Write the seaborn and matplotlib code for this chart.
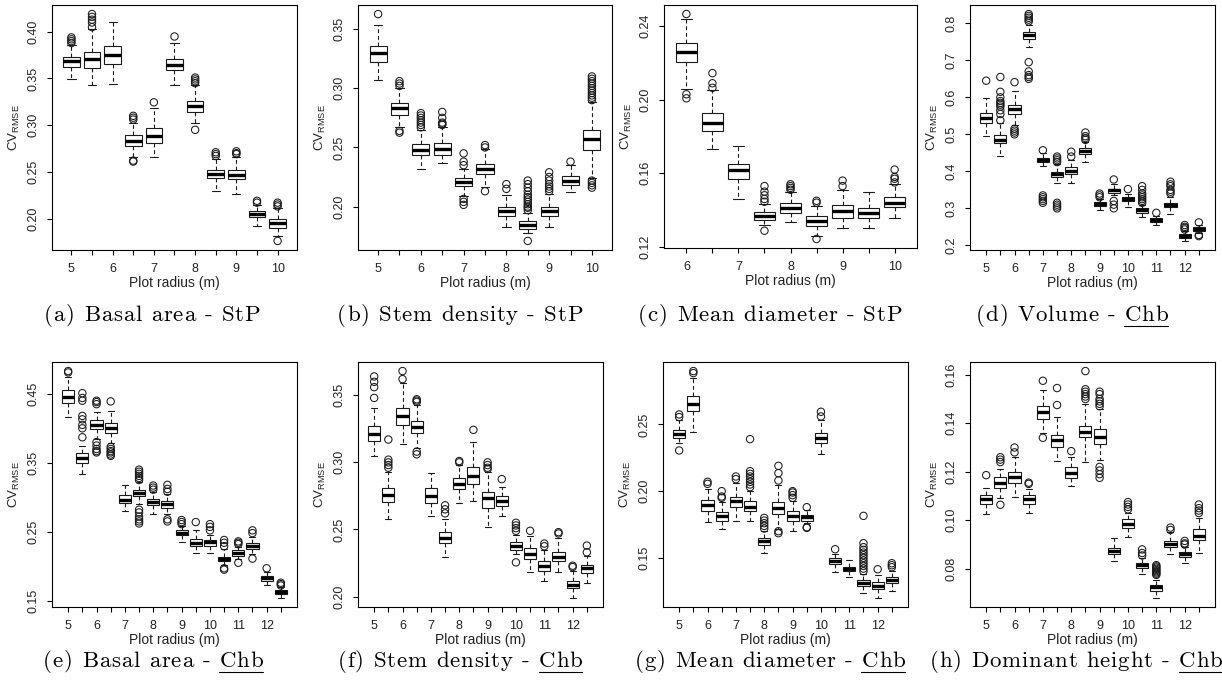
import matplotlib
matplotlib.use("Agg")
import matplotlib.pyplot as plt
from matplotlib import font_manager, ft2font
from matplotlib.lines import Line2D
import numpy as np
import pandas as pd
import seaborn as sns

# ---- data: per box (lower whisker, Q1, median, Q3, upper whisker) + outliers ----
RADIUS_A = [5, 5.5, 6, 6.5, 7, 7.5, 8, 8.5, 9, 9.5, 10]
BOX_A = [
    (0.349, 0.3626, 0.3683, 0.373, 0.386),
    (0.343, 0.3615, 0.3705, 0.378, 0.403),
    (0.344, 0.366, 0.375, 0.385, 0.411),
    (0.266, 0.278, 0.2834, 0.289, 0.302),
    (0.2655, 0.281, 0.2885, 0.297, 0.318),
    (0.343, 0.359, 0.3647, 0.371, 0.3885),
    (0.302, 0.314, 0.320, 0.326, 0.343),
    (0.230, 0.243, 0.2475, 0.2525, 0.264),
    (0.226, 0.242, 0.247, 0.2525, 0.266),
    (0.1925, 0.2015, 0.205, 0.208, 0.214),
    (0.1817, 0.1895, 0.195, 0.199, 0.211),
]
OUT_A = [
    [0.388, 0.390, 0.392, 0.394],
    [0.405, 0.410, 0.413, 0.416, 0.419],
    [],
    [0.261, 0.262, 0.306, 0.308, 0.310],
    [0.3245],
    [0.395],
    [0.295, 0.345, 0.347, 0.349, 0.351],
    [0.267, 0.269, 0.271],
    [0.269, 0.270, 0.272],
    [0.217, 0.219],
    [0.176, 0.213, 0.215, 0.217],
]
YTICKS_A = [0.20, 0.25, 0.30, 0.35, 0.40]

RADIUS_B = [5, 5.5, 6, 6.5, 7, 7.5, 8, 8.5, 9, 9.5, 10]
BOX_B = [
    (0.307, 0.3225, 0.3296, 0.3359, 0.3537),
    (0.267, 0.2778, 0.283, 0.2877, 0.300),
    (0.232, 0.2433, 0.248, 0.2526, 0.265),
    (0.2368, 0.2439, 0.249, 0.254, 0.267),
    (0.209, 0.217, 0.2207, 0.2243, 0.232),
    (0.2165, 0.2278, 0.2317, 0.2357, 0.249),
    (0.1825, 0.1923, 0.196, 0.1994, 0.210),
    (0.178, 0.181, 0.1847, 0.1881, 0.195),
    (0.183, 0.1923, 0.196, 0.200, 0.211),
    (0.212, 0.2184, 0.222, 0.2255, 0.235),
    (0.224, 0.2475, 0.257, 0.2645, 0.288),
]
OUT_B = [
    [0.3627],
    [0.2625, 0.264, 0.302, 0.304, 0.306],
    [0.267, 0.269, 0.271, 0.273, 0.275, 0.277, 0.279],
    [0.269, 0.270, 0.271, 0.275, 0.280],
    [0.2015, 0.204, 0.2065, 0.235, 0.238, 0.245],
    [0.213, 0.250, 0.252],
    [0.215, 0.219],
    [0.171, 0.197, 0.199, 0.200, 0.202, 0.204, 0.206, 0.208, 0.210, 0.213,
     0.216, 0.219, 0.222],
    [0.213, 0.215, 0.217, 0.219, 0.222, 0.225, 0.229],
    [0.238],
    [0.216, 0.218, 0.220, 0.222, 0.290, 0.292, 0.294, 0.296, 0.298, 0.300,
     0.302, 0.304, 0.306, 0.308, 0.310],
]
YTICKS_B = [0.20, 0.25, 0.30, 0.35]

RADIUS_C = [6, 6.5, 7, 7.5, 8, 8.5, 9, 9.5, 10]
BOX_C = [
    (0.206, 0.2207, 0.2259, 0.231, 0.2441),
    (0.1733, 0.1832, 0.1873, 0.1926, 0.2055),
    (0.1462, 0.157, 0.1615, 0.1651, 0.175),
    (0.132, 0.1345, 0.1368, 0.139, 0.143),
    (0.1332, 0.1386, 0.1413, 0.144, 0.150),
    (0.126, 0.1314, 0.1339, 0.1368, 0.142),
    (0.130, 0.1359, 0.1393, 0.1426, 0.151),
    (0.130, 0.1359, 0.1381, 0.1411, 0.150),
    (0.1359, 0.1417, 0.144, 0.1471, 0.154),
]
OUT_C = [
    [0.2008, 0.203, 0.2467],
    [0.2065, 0.209, 0.2145],
    [],
    [0.1287, 0.1445, 0.146, 0.148, 0.150, 0.153],
    [0.151, 0.152, 0.153, 0.154],
    [0.1242, 0.144, 0.145],
    [0.153, 0.156],
    [],
    [0.155, 0.157, 0.158, 0.162],
]
YTICKS_C = [0.12, 0.16, 0.20, 0.24]

RADIUS_16 = [5, 5.5, 6, 6.5, 7, 7.5, 8, 8.5, 9, 9.5, 10, 10.5, 11, 11.5, 12, 12.5]

BOX_D = [
    (0.495, 0.530, 0.545, 0.557, 0.598),
    (0.441, 0.476, 0.486, 0.497, 0.530),
    (0.525, 0.555, 0.569, 0.578, 0.618),
    (0.737, 0.758, 0.768, 0.776, 0.795),
    (0.414, 0.425, 0.431, 0.437, 0.450),
    (0.369, 0.385, 0.392, 0.398, 0.420),
    (0.369, 0.392, 0.400, 0.412, 0.430),
    (0.425, 0.448, 0.455, 0.463, 0.480),
    (0.295, 0.306, 0.313, 0.317, 0.325),
    (0.335, 0.342, 0.349, 0.353, 0.365),
    (0.304, 0.320, 0.325, 0.331, 0.340),
    (0.277, 0.288, 0.295, 0.302, 0.310),
    (0.256, 0.263, 0.269, 0.274, 0.280),
    (0.286, 0.304, 0.309, 0.314, 0.330),
    (0.212, 0.220, 0.226, 0.232, 0.240),
    (0.233, 0.239, 0.244, 0.250, 0.255),
]
OUT_D = [
    [0.645],
    [0.538, 0.555, 0.565, 0.575, 0.580, 0.585, 0.590, 0.600, 0.615, 0.655],
    [0.500, 0.505, 0.510, 0.515, 0.641],
    [0.650, 0.655, 0.660, 0.670, 0.695, 0.805, 0.810, 0.815, 0.820, 0.825],
    [0.315, 0.320, 0.325, 0.330, 0.335, 0.457],
    [0.300, 0.305, 0.310, 0.315, 0.425, 0.430, 0.435, 0.440],
    [0.440, 0.453],
    [0.485, 0.490, 0.495, 0.505],
    [0.330, 0.335, 0.340],
    [0.300, 0.310, 0.320, 0.378],
    [0.352],
    [0.315, 0.320, 0.325, 0.330, 0.335, 0.340, 0.350, 0.360],
    [0.288],
    [0.340, 0.345, 0.350, 0.360, 0.365, 0.372],
    [0.243, 0.247, 0.250, 0.255],
    [0.225, 0.228, 0.262],
]
YTICKS_D = [0.2, 0.3, 0.4, 0.5, 0.6, 0.7, 0.8]

BOX_E = [
    (0.416, 0.4364, 0.445, 0.4549, 0.475),
    (0.3335, 0.350, 0.3563, 0.3636, 0.375),
    (0.385, 0.3985, 0.4049, 0.4121, 0.424),
    (0.378, 0.3937, 0.401, 0.4073, 0.4257),
    (0.2796, 0.291, 0.2966, 0.303, 0.3175),
    (0.290, 0.3015, 0.3063, 0.310, 0.322),
    (0.2762, 0.2884, 0.2932, 0.298, 0.308),
    (0.275, 0.285, 0.2908, 0.2947, 0.305),
    (0.235, 0.2447, 0.2486, 0.252, 0.258),
    (0.219, 0.2292, 0.234, 0.2389, 0.253),
    (0.2195, 0.230, 0.2345, 0.2384, 0.245),
    (0.202, 0.2073, 0.2107, 0.214, 0.225),
    (0.210, 0.2155, 0.2194, 0.2228, 0.228),
    (0.218, 0.2253, 0.2296, 0.234, 0.242),
    (0.1733, 0.179, 0.183, 0.1864, 0.192),
    (0.154, 0.1597, 0.1626, 0.1655, 0.170),
]
OUT_E = [
    [0.481, 0.483],
    [0.387, 0.400, 0.405, 0.413, 0.418, 0.440, 0.444, 0.451],
    [0.365, 0.367, 0.370, 0.375, 0.380, 0.435, 0.438, 0.440],
    [0.360, 0.362, 0.365, 0.367, 0.370, 0.373, 0.439],
    [],
    [0.262, 0.265, 0.268, 0.272, 0.278, 0.282, 0.325, 0.328, 0.331, 0.334,
     0.337, 0.340],
    [0.311, 0.314, 0.317],
    [0.265, 0.268, 0.308, 0.312, 0.318],
    [0.261, 0.264, 0.267],
    [0.264],
    [0.252, 0.257, 0.261],
    [0.195, 0.197, 0.229, 0.234, 0.238],
    [0.205, 0.232, 0.234, 0.236],
    [0.211, 0.248, 0.252],
    [0.197],
    [0.172, 0.174, 0.176],
]
YTICKS_E = [0.15, 0.25, 0.35, 0.45]

BOX_F = [
    (0.305, 0.316, 0.321, 0.3272, 0.3408),
    (0.2577, 0.2701, 0.2758, 0.2806, 0.293),
    (0.3135, 0.3279, 0.3346, 0.3403, 0.359),
    (0.311, 0.3222, 0.326, 0.3309, 0.343),
    (0.2597, 0.2694, 0.2751, 0.2806, 0.292),
    (0.2292, 0.2396, 0.2436, 0.2478, 0.258),
    (0.2696, 0.2801, 0.2838, 0.2882, 0.298),
    (0.2709, 0.2838, 0.290, 0.2962, 0.3148),
    (0.2515, 0.2657, 0.2734, 0.2781, 0.293),
    (0.2597, 0.2672, 0.2709, 0.2751, 0.2813),
    (0.232, 0.2349, 0.2379, 0.2404, 0.246),
    (0.218, 0.228, 0.2317, 0.2362, 0.245),
    (0.2118, 0.2193, 0.223, 0.2267, 0.235),
    (0.218, 0.2267, 0.2297, 0.2334, 0.244),
    (0.199, 0.2064, 0.2089, 0.2118, 0.219),
    (0.210, 0.2176, 0.221, 0.2238, 0.230),
]
OUT_F = [
    [0.348, 0.356, 0.360, 0.364],
    [0.296, 0.298, 0.300, 0.302, 0.317],
    [0.362, 0.368],
    [0.306, 0.308, 0.345, 0.346, 0.347],
    [],
    [0.262, 0.265, 0.268],
    [0.300, 0.301],
    [0.3242],
    [0.295, 0.296, 0.298, 0.300],
    [0.2875],
    [0.2255, 0.249, 0.251, 0.253, 0.255],
    [0.249],
    [0.2375, 0.2395],
    [0.247, 0.248],
    [0.222, 0.223],
    [0.233, 0.238],
]
YTICKS_F = [0.20, 0.25, 0.30, 0.35]

BOX_G = [
    (0.236, 0.240, 0.243, 0.246, 0.253),
    (0.2443, 0.2598, 0.2655, 0.271, 0.285),
    (0.1768, 0.185, 0.190, 0.1935, 0.202),
    (0.1713, 0.178, 0.1817, 0.1843, 0.192),
    (0.178, 0.1885, 0.1925, 0.196, 0.206),
    (0.178, 0.1855, 0.1885, 0.1925, 0.200),
    (0.1538, 0.1593, 0.1623, 0.165, 0.170),
    (0.172, 0.183, 0.1875, 0.1918, 0.205),
    (0.1705, 0.178, 0.1817, 0.185, 0.193),
    (0.176, 0.178, 0.1805, 0.1825, 0.186),
    (0.228, 0.2363, 0.2398, 0.2435, 0.253),
    (0.1398, 0.1455, 0.148, 0.150, 0.153),
    (0.1355, 0.140, 0.1418, 0.1435, 0.1485),
    (0.1238, 0.1288, 0.1313, 0.1335, 0.138),
    (0.120, 0.1268, 0.1293, 0.1318, 0.137),
    (0.1255, 0.131, 0.1335, 0.1355, 0.140),
]
OUT_G = [
    [0.2305, 0.2555, 0.2575],
    [0.2885, 0.290],
    [0.2055, 0.207],
    [0.195, 0.196, 0.200],
    [0.209, 0.211],
    [0.203, 0.205, 0.207, 0.209, 0.211, 0.213, 0.215, 0.239],
    [0.172, 0.174, 0.176, 0.178, 0.180],
    [0.1685, 0.170, 0.208, 0.2135, 0.219],
    [0.195, 0.197, 0.199, 0.200],
    [0.1725, 0.173, 0.188],
    [0.256, 0.2595],
    [0.1565],
    [],
    [0.140, 0.142, 0.144, 0.146, 0.148, 0.150, 0.152, 0.154, 0.156, 0.158,
     0.161, 0.1815],
    [0.1415],
    [0.143, 0.1445, 0.146],
]
YTICKS_G = [0.15, 0.20, 0.25]

BOX_H = [
    (0.1025, 0.1066, 0.1087, 0.1105, 0.1135),
    (0.109, 0.1132, 0.1153, 0.1177, 0.121),
    (0.1097, 0.1152, 0.118, 0.1201, 0.126),
    (0.1028, 0.1069, 0.1087, 0.1104, 0.113),
    (0.136, 0.1418, 0.1448, 0.1469, 0.1535),
    (0.1243, 0.1301, 0.1331, 0.1353, 0.1425),
    (0.1142, 0.1174, 0.1195, 0.1218, 0.126),
    (0.1239, 0.1342, 0.1363, 0.139, 0.148),
    (0.125, 0.1315, 0.1345, 0.1377, 0.146),
    (0.0832, 0.086, 0.0873, 0.0887, 0.0928),
    (0.0931, 0.0967, 0.0986, 0.1004, 0.103),
    (0.0777, 0.0802, 0.0814, 0.0825, 0.0845),
    (0.068, 0.071, 0.0724, 0.0735, 0.0755),
    (0.0859, 0.089, 0.0904, 0.0915, 0.095),
    (0.0825, 0.0848, 0.0859, 0.0871, 0.089),
    (0.0864, 0.0917, 0.0935, 0.0963, 0.101),
]
OUT_H = [
    [0.1186],
    [0.1064, 0.124, 0.125, 0.126],
    [0.128, 0.130],
    [0.115, 0.1155],
    [0.134, 0.1575],
    [0.1475, 0.1545],
    [0.1285],
    [0.150, 0.151, 0.152, 0.153, 0.154, 0.1615],
    [0.1175, 0.119, 0.1205, 0.122, 0.147, 0.148, 0.149, 0.150, 0.152, 0.153],
    [],
    [0.1045, 0.1055, 0.1065, 0.1075],
    [0.0855, 0.0865, 0.088],
    [0.0775, 0.078, 0.0785, 0.079, 0.0795, 0.080, 0.0805, 0.081, 0.0815],
    [0.096, 0.097],
    [0.090, 0.0905, 0.0915],
    [0.103, 0.104, 0.105, 0.1065],
]
YTICKS_H = [0.08, 0.10, 0.12, 0.14, 0.16]

CAPTIONS = [
    ("(a) Basal area - StP", False),
    ("(b) Stem density - StP", False),
    ("(c) Mean diameter - StP", False),
    ("(d) Volume - Chb", True),
    ("(e) Basal area - Chb", True),
    ("(f) Stem density - Chb", True),
    ("(g) Mean diameter - Chb", True),
    ("(h) Dominant height - Chb", True),
]

# ---- style ----
sns.set_style("ticks")
plt.rcParams["font.family"] = ["Liberation Sans", "DejaVu Sans"]
plt.rcParams["mathtext.fontset"] = "custom"
plt.rcParams["mathtext.rm"] = "Liberation Sans"

W, H = 1222, 689
fig = plt.figure(figsize=(W / 100, H / 100), dpi=100)
fig.patch.set_facecolor("white")

# axes rectangles in pixels: left, top, right, bottom
RECTS = [
    (52, 5, 297, 250), (358, 5, 612, 250), (664, 5, 917, 248), (970, 5, 1215, 250),
    (52, 362, 297, 607), (358, 362, 603, 607), (663, 362, 908, 607), (970, 362, 1215, 607),
]
# caption centre x and baseline y, pixels
CAP_POS = [(152, 321), (460, 321), (770, 321), (1072, 321),
           (153, 667), (460, 667), (770, 667), (1076, 667)]

PANELS = [
    (RADIUS_A, BOX_A, OUT_A, YTICKS_A, 2),
    (RADIUS_B, BOX_B, OUT_B, YTICKS_B, 2),
    (RADIUS_C, BOX_C, OUT_C, YTICKS_C, 2),
    (RADIUS_16, BOX_D, OUT_D, YTICKS_D, 1),
    (RADIUS_16, BOX_E, OUT_E, YTICKS_E, 2),
    (RADIUS_16, BOX_F, OUT_F, YTICKS_F, 2),
    (RADIUS_16, BOX_G, OUT_G, YTICKS_G, 2),
    (RADIUS_16, BOX_H, OUT_H, YTICKS_H, 2),
]

INK = "#1a1a1a"


def draw_panel(ax, radius, boxes, outliers, yticks, ndec):
    # five values per box give exact quartiles; whiskers go to min / max
    rows = [(r, v) for r, b in zip(radius, boxes) for v in b]
    df = pd.DataFrame(rows, columns=["radius", "cv"])
    n = len(radius)
    sns.boxplot(
        data=df, x="radius", y="cv", native_scale=True, whis=(0, 100),
        width=0.8 if n < 12 else 0.85, color="white", linecolor=INK,
        linewidth=0.8, fliersize=0,
        medianprops=dict(linewidth=2.4, color="black"),
        whiskerprops=dict(linestyle=(0, (3.5, 2.5))),
        ax=ax,
    )
    ox = [r for r, o in zip(radius, outliers) for _ in o]
    oy = [v for o in outliers for v in o]
    if ox:
        sns.scatterplot(
            x=ox, y=oy, marker="o", s=28, facecolor="none",
            edgecolor=INK, linewidth=0.75, ax=ax, zorder=3, legend=False,
        )

    # R-like limits: 4% padding around the data range
    allv = [v for b in boxes for v in b] + oy
    lo, hi = min(allv), max(allv)
    pad = 0.04 * (hi - lo)
    ax.set_ylim(lo - pad, hi + pad)
    step = radius[1] - radius[0]
    margin = (0.5 + 0.04 * n) * step
    ax.set_xlim(radius[0] - margin, radius[-1] + margin)

    ax.set_xticks(radius)
    ax.set_xticklabels([f"{r:g}" if float(r).is_integer() else "" for r in radius])
    ax.set_yticks(yticks)
    ax.set_yticklabels([f"{t:.{ndec}f}" for t in yticks])
    ax.tick_params(axis="both", direction="out", length=3.6, width=0.8,
                   labelsize=9, color="black", labelcolor="#222222", pad=5.5)
    ax.tick_params(axis="y", labelrotation=90)
    for t in ax.get_yticklabels():
        t.set_va("center")

    for s in ax.spines.values():
        s.set_visible(True)
        s.set_linewidth(0.8)
        s.set_color("black")

    ax.set_xlabel("Plot radius (m)", fontsize=10, labelpad=1, color="#222222")
    ax.set_ylabel(r"CV$_{\mathregular{RMSE}}$", fontsize=9.5, color="#222222")
    ax.grid(False)


for (l, t, r, b), (radius, boxes, outs, yt, nd) in zip(RECTS, PANELS):
    ax = fig.add_axes([l / W, 1 - b / H, (r - l) / W, (b - t) / H])
    draw_panel(ax, radius, boxes, outs, yt, nd)
    ax.yaxis.set_label_coords(-30 / (r - l), 0.5)

# ---- captions: Computer Modern, slightly letter-spaced, "Chb" underlined ----
CAP_PT = 16.5
TRACK = 0.8  # extra pixels between letters
cap_font = dict(family=["cmr10", "DejaVu Serif"], size=CAP_PT, color="black")
cap_file = font_manager.findfont(font_manager.FontProperties(family="cmr10"))
ft = ft2font.FT2Font(cap_file)
ft.set_size(CAP_PT, 100)


def advance(ch):
    g = ft.load_char(ord(ch))
    adv = g.linearHoriAdvance / 65536.0
    if ch == " " and adv < 1:
        adv = 0.33 * CAP_PT * 100 / 72
    return adv


for (cx, base), (txt, under) in zip(CAP_POS, CAPTIONS):
    advs = [advance(c) for c in txt]
    total = sum(advs) + TRACK * (len(txt) - 1)
    x = cx - total / 2
    xs = []
    for c, a in zip(txt, advs):
        if c != " ":
            fig.text(x / W, 1 - base / H, c, ha="left", va="baseline", **cap_font)
        xs.append(x)
        x += a + TRACK
    if under:
        i = txt.index("Chb")
        x0, x1 = xs[i], xs[i + 2] + advs[i + 2]
        y = 1 - (base + 4.5) / H
        fig.add_artist(Line2D([x0 / W, x1 / W], [y, y], transform=fig.transFigure,
                              color="black", linewidth=0.8))

fig.savefig("out.png", dpi=100, facecolor="white")
